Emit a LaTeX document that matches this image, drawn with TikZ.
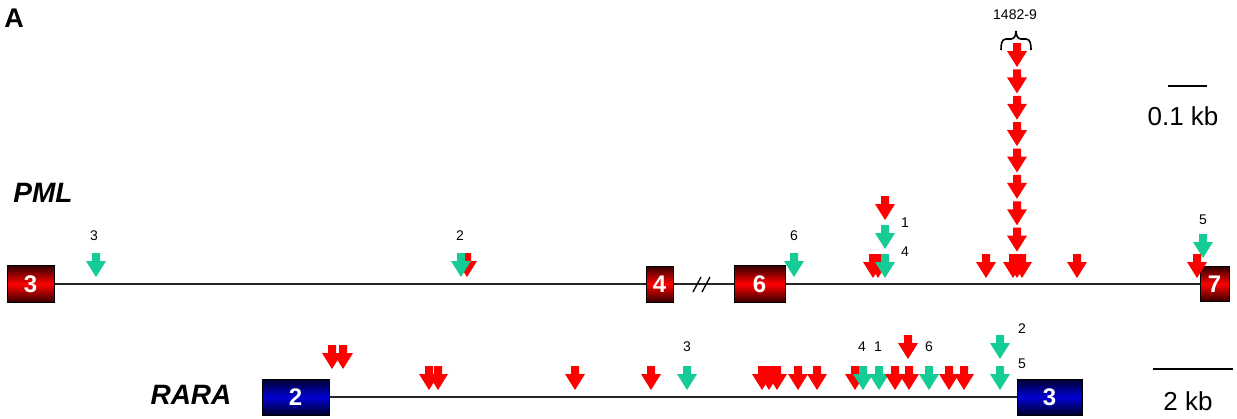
\documentclass[tikz,border=0pt]{standalone}
\usepackage{fontspec}
\setmainfont{Liberation Sans}
\definecolor{mutgreen}{RGB}{22,204,150}
\definecolor{mutred}{RGB}{255,0,0}
\definecolor{exdarkred}{RGB}{50,0,0}
\definecolor{exdarkblue}{RGB}{0,0,45}
\definecolor{exblue}{RGB}{0,0,210}
\tikzset{
  darr/.pic={\fill[pic actions] (-4,0) -- (4,0) -- (4,8) -- (10,8) -- (0,24) -- (-10,8) -- (-4,8) -- cycle;},
  redarr/.style={fill=mutred},
  grnarr/.style={fill=mutgreen},
  exon/.style={draw=black, line width=1pt, inner sep=0pt, text=white,
    font=\bfseries\fontsize{24}{24}\selectfont},
  pmlexon/.style={exon, top color=exdarkred, bottom color=exdarkred, middle color=mutred},
  raraexon/.style={exon, top color=exdarkblue, bottom color=exdarkblue, middle color=exblue},
  intron/.style={line width=1.3pt, black!85},
  num/.style={font=\fontsize{14}{14}\selectfont, inner sep=0pt},
  gene/.style={font=\bfseries\itshape\fontsize{28}{28}\selectfont, inner sep=0pt},
  scaletxt/.style={font=\fontsize{26}{26}\selectfont, inner sep=0pt},
}
\begin{document}
\begin{tikzpicture}[x=1pt, y=-1pt]
\useasboundingbox (0,0) rectangle (1237,418);

% panel letter and gene names
\node[font=\bfseries\fontsize{27}{27}\selectfont, inner sep=0pt] (panel) at (14,18) {A};
\node[gene] (pmlname) at (43,193) {PML};
\node[gene] (raraname) at (191,395) {RARA};

% PML exons
\node[pmlexon, minimum width=47pt, minimum height=37pt] (p3) at (30.5,284) {3};
\node[pmlexon, minimum width=27pt, minimum height=36pt] (p4) at (659.5,284) {4};
\node[pmlexon, minimum width=51pt, minimum height=37pt] (p6) at (759.5,284) {6};
\node[pmlexon, minimum width=29pt, minimum height=35pt] (p7) at (1214.5,284) {7};

% RARA exons
\node[raraexon, minimum width=67pt, minimum height=36pt] (r2) at (295.5,397) {2};
\node[raraexon, minimum width=65pt, minimum height=36pt] (r3) at (1049.5,397) {3};

% introns
\draw[intron] (p3) -- (p4);
\draw[intron] (p4) -- (p6);
\draw[intron] (p6) -- (p7);
\draw[intron] (r2) -- (r3);
% break marks in the PML intron
\draw[line width=1.3pt] (693,292) -- (701,277);
\draw[line width=1.3pt] (702,292) -- (710,277);

% scale bars
\coordinate (sbA1) at (1168,86);
\coordinate (sbA2) at (1207,86);
\draw[line width=1.3pt] (sbA1) -- (sbA2);
\node[scaletxt] (sbAtxt) at (1183,116) {0.1 kb};
\coordinate (sbB1) at (1153,369);
\coordinate (sbB2) at (1233,369);
\draw[line width=1.3pt] (sbB1) -- (sbB2);
\node[scaletxt] (sbBtxt) at (1188,401) {2 kb};

% PML breakpoints
\pic[grnarr] at (96,253) {darr};
\pic[redarr] at (467,253) {darr};
\pic[grnarr] at (461,253) {darr};
\pic[grnarr] at (794,253) {darr};
\pic[redarr] at (873,254) {darr};
\pic[redarr] at (878,254) {darr};
\pic[grnarr] at (885,254) {darr};
\pic[grnarr] at (885,225) {darr};
\pic[redarr] at (885,196) {darr};
\pic[redarr] at (986,254) {darr};
\foreach \k in {0,...,7} {
  \pic[redarr] at (1017,43+26.375*\k) {darr};
}
\pic[redarr] at (1013,254) {darr};
\pic[redarr] at (1022,254) {darr};
\pic[redarr] at (1017,254) {darr};
\pic[redarr] at (1077,254) {darr};
\pic[grnarr] at (1203,234) {darr};
\pic[redarr] at (1197,254) {darr};

% PML labels
\node[num] (l3) at (94,236) {3};
\node[num] (l2) at (460,236) {2};
\node[num] (l6) at (794,236) {6};
\node[num] (l1) at (905,223) {1};
\node[num] (l4) at (905,252) {4};
\node[num] (l5) at (1203,220) {5};
\node[num] (lcl) at (1015,15) {1482-9};
\draw[line width=1.6pt] (1001,50) to[out=90,in=180] (1006,39) -- (1011,39)
  to[out=0,in=-90] (1016,31) to[out=-90,in=180] (1021,39) -- (1026,39)
  to[out=0,in=90] (1031,50);

% RARA breakpoints
\pic[redarr] at (332,345) {darr};
\pic[redarr] at (343,345) {darr};
\pic[redarr] at (429,366) {darr};
\pic[redarr] at (438,366) {darr};
\pic[redarr] at (575,366) {darr};
\pic[redarr] at (651,366) {darr};
\pic[grnarr] at (687,366) {darr};
\pic[redarr] at (762,366) {darr};
\pic[redarr] at (769,366) {darr};
\pic[redarr] at (777,366) {darr};
\pic[redarr] at (798,366) {darr};
\pic[redarr] at (817,366) {darr};
\pic[redarr] at (855,366) {darr};
\pic[grnarr] at (863,366) {darr};
\pic[grnarr] at (879,366) {darr};
\pic[redarr] at (895,366) {darr};
\pic[redarr] at (909,366) {darr};
\pic[redarr] at (908,335) {darr};
\pic[grnarr] at (929,366) {darr};
\pic[redarr] at (949,366) {darr};
\pic[redarr] at (964,366) {darr};
\pic[grnarr] at (1000,335) {darr};
\pic[grnarr] at (1000,366) {darr};

% RARA labels
\node[num] (m3) at (687,347) {3};
\node[num] (m4) at (862,347) {4};
\node[num] (m1) at (878,347) {1};
\node[num] (m6) at (929,347) {6};
\node[num] (m2) at (1022,329) {2};
\node[num] (m5) at (1022,364) {5};
\end{tikzpicture}
\end{document}
